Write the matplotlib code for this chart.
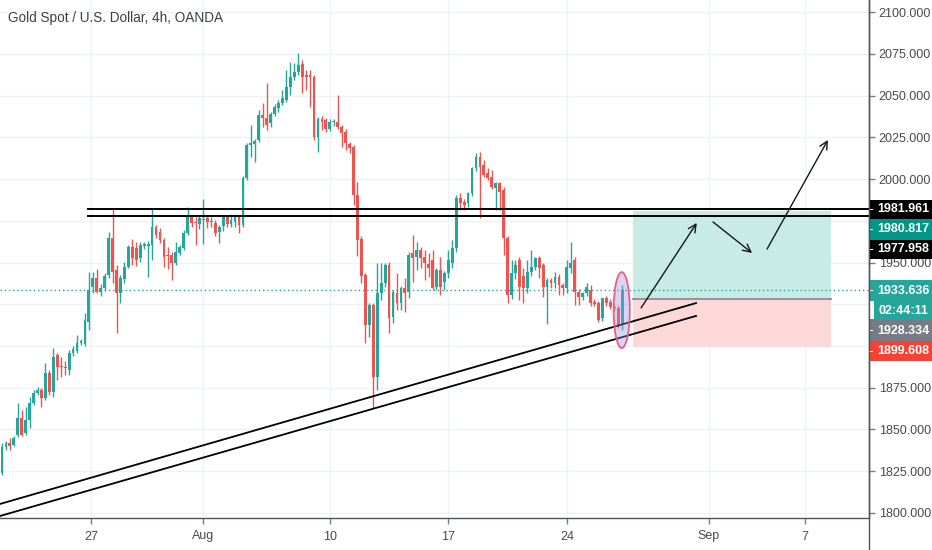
import matplotlib
matplotlib.use("Agg")
import matplotlib.pyplot as plt
from matplotlib.patches import Rectangle, Ellipse
import numpy as np

# 4h candles (bar index = position on the time axis)
opens = [1824.0, 1839.5, 1842.0, 1841.0, 1846.7, 1857.0, 1848.0, 1855.7, 1866.0, 1872.0,
         1873.7, 1868.9, 1883.8, 1872.4, 1894.6, 1888.0, 1887.7, 1885.6, 1895.8, 1897.0,
         1901.5, 1901.2, 1914.4, 1935.3, 1940.7, 1932.3, 1934.7, 1942.5, 1964.7, 1945.5,
         1931.7, 1940.1, 1947.3, 1959.3, 1958.7, 1952.7, 1959.9, 1960.0, 1960.5, 1971.3,
         1968.3, 1963.5, 1954.5, 1954.5, 1949.7, 1955.7, 1958.7, 1967.7, 1977.2, 1974.0,
         1973.0, 1975.4, 1976.6, 1974.5, 1973.7, 1968.3, 1971.9, 1977.2, 1973.0, 1974.5,
         1977.2, 1972.5, 2000.6, 2020.4, 2021.0, 2023.4, 2038.3, 2036.5, 2033.5, 2038.9,
         2042.5, 2045.5, 2047.3, 2055.1, 2061.1, 2064.1, 2068.9, 2062.3, 2062.3, 2061.1,
         2025.1, 2035.9, 2035.3, 2030.0, 2034.1, 2034.1, 2031.1, 2028.1, 2021.0, 2019.2,
         1990.4, 1964.1, 1942.5, 1912.6, 1924.5, 1881.4, 1931.7, 1937.7, 1948.5, 1917.4,
         1931.7, 1925.7, 1934.7, 1932.3, 1955.7, 1953.3, 1957.5, 1953.3, 1949.1, 1951.5,
         1935.3, 1945.5, 1938.3, 1943.7, 1949.7, 1958.7, 1988.6, 1986.2, 1985.6, 1991.6,
         2006.6, 2013.2, 2008.4, 2003.6, 2001.2, 1994.6, 1997.6, 1993.4, 1964.7, 1930.5,
         1943.7, 1951.5, 1942.0, 1934.7, 1944.3, 1947.3, 1952.7, 1948.5, 1935.3, 1939.5,
         1937.7, 1941.3, 1936.5, 1934.7, 1946.7, 1951.5, 1932.3, 1929.3, 1931.7, 1933.5,
         1926.3, 1925.7, 1916.8, 1928.7, 1926.3, 1923.4, 1922.8, 1912.6]
highs = [1842.0, 1843.0, 1845.0, 1846.0, 1866.0, 1861.7, 1863.5, 1869.5, 1873.7, 1875.4,
         1874.9, 1889.8, 1885.6, 1898.8, 1895.8, 1893.4, 1891.0, 1897.6, 1900.0, 1906.6,
         1904.0, 1919.8, 1944.3, 1944.3, 1946.1, 1937.0, 1943.7, 1968.3, 1982.6, 1948.5,
         1942.5, 1950.3, 1960.5, 1964.1, 1962.3, 1962.3, 1962.0, 1963.0, 1982.6, 1972.5,
         1970.7, 1964.7, 1959.0, 1956.3, 1962.3, 1960.5, 1969.5, 1983.2, 1978.4, 1977.0,
         1978.0, 1988.0, 1977.8, 1977.0, 1975.4, 1972.5, 1978.5, 1978.5, 1979.0, 1979.0,
         1978.5, 2001.8, 2021.6, 2032.3, 2024.0, 2041.3, 2045.5, 2057.5, 2040.1, 2044.9,
         2047.3, 2053.3, 2065.3, 2070.1, 2069.5, 2075.4, 2071.3, 2065.3, 2065.3, 2062.3,
         2037.1, 2038.0, 2036.5, 2036.0, 2036.0, 2050.3, 2032.3, 2030.0, 2022.2, 2020.4,
         1998.2, 1965.9, 1943.7, 1926.0, 1925.7, 1949.7, 1949.7, 1949.7, 1950.3, 1933.5,
         1943.7, 1936.0, 1940.7, 1956.3, 1966.5, 1962.3, 1959.3, 1957.5, 1955.7, 1957.5,
         1946.7, 1953.3, 1945.0, 1957.5, 1963.5, 1990.4, 1991.6, 1988.0, 1992.0, 2007.0,
         2015.6, 2016.2, 2011.4, 2006.6, 2005.4, 1998.2, 1998.2, 1995.0, 1966.0, 1951.5,
         1951.5, 1953.0, 1947.0, 1951.5, 1957.5, 1953.0, 1954.0, 1950.0, 1941.0, 1941.0,
         1944.3, 1943.0, 1938.0, 1951.5, 1962.3, 1953.0, 1934.0, 1932.5, 1937.7, 1936.5,
         1928.0, 1927.0, 1929.0, 1930.0, 1928.0, 1925.0, 1924.0, 1936.5]
lows = [1822.8, 1838.0, 1838.0, 1840.0, 1845.5, 1846.0, 1846.7, 1851.0, 1864.7, 1870.7,
        1863.5, 1867.7, 1870.7, 1869.5, 1879.6, 1881.4, 1882.6, 1882.6, 1894.0, 1895.8,
        1900.5, 1900.0, 1909.6, 1931.7, 1931.7, 1930.0, 1933.0, 1940.7, 1938.0, 1907.8,
        1925.7, 1937.7, 1946.7, 1948.5, 1947.9, 1950.3, 1958.0, 1941.3, 1951.5, 1964.7,
        1961.7, 1947.3, 1946.0, 1939.5, 1948.5, 1954.5, 1957.5, 1966.5, 1971.3, 1960.5,
        1970.0, 1961.1, 1970.5, 1971.0, 1965.9, 1961.7, 1969.0, 1971.0, 1971.0, 1971.3,
        1967.7, 1971.3, 1999.4, 2013.2, 2010.0, 2022.2, 2031.1, 2029.2, 2031.1, 2037.7,
        2040.1, 2044.3, 2046.1, 2050.3, 2059.3, 2062.3, 2051.5, 2053.3, 2043.1, 2023.4,
        2016.2, 2029.2, 2028.1, 2028.7, 2032.0, 2029.8, 2019.2, 2017.4, 2015.6, 1984.4,
        1953.9, 1937.7, 1901.8, 1905.4, 1862.9, 1873.7, 1927.5, 1935.3, 1907.8, 1913.8,
        1921.6, 1921.6, 1920.4, 1929.0, 1938.3, 1945.5, 1946.7, 1939.5, 1941.3, 1933.5,
        1933.5, 1930.5, 1933.5, 1941.0, 1947.0, 1956.0, 1981.4, 1981.4, 1983.5, 1990.0,
        2005.0, 1976.6, 2001.0, 1999.4, 1994.0, 1981.4, 1981.4, 1954.5, 1925.7, 1928.0,
        1940.0, 1927.5, 1925.7, 1932.0, 1942.0, 1945.5, 1940.7, 1929.3, 1913.2, 1934.7,
        1935.0, 1930.5, 1930.5, 1932.0, 1944.0, 1924.5, 1924.5, 1927.5, 1930.0, 1924.0,
        1924.0, 1914.4, 1915.0, 1924.0, 1922.0, 1921.0, 1911.0, 1909.6]
closes = [1839.5, 1842.0, 1840.0, 1845.0, 1857.0, 1846.7, 1855.7, 1866.0, 1872.0, 1873.7,
          1868.9, 1883.8, 1872.4, 1893.4, 1887.4, 1887.4, 1886.8, 1895.8, 1898.2, 1901.8,
          1903.0, 1915.6, 1933.5, 1940.7, 1932.3, 1935.0, 1941.9, 1964.7, 1944.3, 1931.7,
          1940.7, 1947.3, 1959.3, 1952.7, 1951.5, 1960.5, 1961.1, 1961.0, 1971.3, 1966.5,
          1963.5, 1953.3, 1954.0, 1949.7, 1956.3, 1959.3, 1967.7, 1977.2, 1973.7, 1973.5,
          1976.6, 1976.2, 1974.3, 1974.0, 1967.7, 1971.3, 1977.2, 1973.0, 1975.4, 1977.2,
          1972.5, 2000.6, 2020.4, 2021.6, 2023.0, 2038.3, 2036.5, 2032.3, 2038.9, 2043.1,
          2045.5, 2048.5, 2055.1, 2061.1, 2064.1, 2068.3, 2061.1, 2061.1, 2061.0, 2025.1,
          2035.9, 2034.1, 2030.0, 2034.1, 2034.8, 2031.1, 2027.5, 2021.6, 2018.6, 1990.4,
          1963.5, 1941.9, 1912.6, 1924.5, 1881.4, 1931.7, 1937.7, 1948.5, 1916.8, 1932.3,
          1925.7, 1934.7, 1931.7, 1954.5, 1952.7, 1957.5, 1952.7, 1949.7, 1946.7, 1934.7,
          1945.5, 1935.3, 1943.7, 1951.5, 1958.7, 1988.6, 1985.6, 1984.4, 1991.6, 2006.6,
          2013.2, 2007.2, 2002.4, 2000.6, 1995.2, 1997.6, 1992.2, 1964.7, 1930.5, 1943.7,
          1948.5, 1935.3, 1934.7, 1944.3, 1947.3, 1952.7, 1946.7, 1935.3, 1939.5, 1937.7,
          1941.3, 1936.5, 1934.7, 1947.3, 1949.7, 1932.3, 1929.3, 1931.7, 1935.3, 1925.7,
          1925.1, 1915.6, 1928.7, 1925.7, 1923.4, 1922.8, 1912.6, 1933.636]

date_ticks = [22.5, 51, 83, 113, 143, 179, 203.3]
date_labels = ["27", "Aug", "10", "17", "24", "Sep", "7"]
price_ticks = list(range(1800, 2101, 25))
hidden_prices = [1975, 1925, 1900]  # covered by the price tags in the original

# drawings on the chart
resistance = [1981.961, 1977.958]
resistance_start = 21.8
support_x = [-0.5, 175.7]
support_upper = [1805.4, 1925.7]
support_lower = [1798.2, 1918.0]
last_price = 1933.636
entry, target, stop = 1928.334, 1980.817, 1899.608
position_x = [159.7, 209.9]
arrows = [((161.8, 1922.8), (175.9, 1973.7)),
          ((180.0, 1974.3), (189.9, 1955.7)),
          ((193.7, 1958.1), (209.1, 2023.4))]

# price tags on the right scale: text, background, y position (px from top)
tag_text = ["1981.961", "1980.817", "1977.958", "1933.636", "02:44:11", "1928.334", "1899.608"]
tag_color = ["#000000", "#009688", "#000000", "#26a69a", "#26a69a", "#787b86", "#f44336"]
tag_top = [200, 219, 240, 280, 301, 320, 341]
tag_bottom = [219, 240, 259, 301, 320, 341, 361]

UP, DOWN = "#26a69a", "#ef5350"
FONT = ["Liberation Sans", "DejaVu Sans"]
W, H = 932, 550
RIGHT, BOTTOM = 869, 518

fig = plt.figure(figsize=(W / 100, H / 100), dpi=100)
ax = fig.add_axes([0, (H - BOTTOM) / H, RIGHT / W, BOTTOM / H])
ax.set_xlim(-0.5, 219.5)
ax.set_ylim(1797.0, 2107.2)

for s in ["top", "left"]:
    ax.spines[s].set_visible(False)
for s in ["right", "bottom"]:
    ax.spines[s].set_color("#50535e")
    ax.spines[s].set_linewidth(1)

ax.set_yticks(price_ticks)
ax.set_yticklabels(["" if p in hidden_prices else f"{p:.3f}" for p in price_ticks])
ax.yaxis.tick_right()
ax.set_xticks(date_ticks)
ax.set_xticklabels(date_labels)
ax.tick_params(axis="both", colors="#787b86", labelcolor="#4a4a4a", length=4, width=1,
               labelsize=9, pad=3)
ax.tick_params(axis="x", pad=5)
for lab in ax.get_yticklabels() + ax.get_xticklabels():
    lab.set_family(FONT)
ax.grid(True, color="#eef1f6", lw=1)
ax.set_axisbelow(True)

# candles
x = np.arange(len(opens))
o, h, l, c = map(np.array, (opens, highs, lows, closes))
cols = np.where(c >= o, UP, DOWN)
ax.vlines(x, l, h, colors=cols, lw=1, zorder=3)
body_lo = np.minimum(o, c)
body_h = np.maximum(np.abs(c - o), 0.7)
ax.bar(x, body_h, bottom=body_lo, width=0.7, color=cols, lw=0, zorder=3)

# last price line
ax.axhline(last_price, color=UP, lw=1, ls=(0, (1, 2)), zorder=2)

# long position tool
ax.add_patch(Rectangle((position_x[0], entry), position_x[1] - position_x[0], target - entry,
                       facecolor="#c9ebe6", edgecolor="none", zorder=1.5))
ax.add_patch(Rectangle((position_x[0], stop), position_x[1] - position_x[0], entry - stop,
                       facecolor="#fcd9d8", edgecolor="none", zorder=1.5))
ax.plot(position_x, [entry, entry], color="#9598a1", lw=1.5, zorder=2)

# resistance + trend lines
for r in resistance:
    ax.plot([resistance_start, 219.5], [r, r], color="black", lw=1.4, zorder=4)
ax.plot(support_x, support_upper, color="black", lw=1.3, zorder=4)
ax.plot(support_x, support_lower, color="black", lw=1.3, zorder=4)

# highlighted last candle
ax.add_patch(Ellipse((156.9, 1921.5), 4.1, 45.5, facecolor=(0.62, 0.55, 0.87, 0.38),
                     edgecolor="#e8627e", lw=1.3, zorder=5))

for (x0, y0), (x1, y1) in arrows:
    ax.annotate("", xy=(x1, y1), xytext=(x0, y0),
                arrowprops=dict(arrowstyle="->", color="#131722", lw=1, mutation_scale=14,
                                shrinkA=0, shrinkB=0), zorder=6)

# title
fig.text(8 / W, 1 - 18 / H, "Gold Spot / U.S. Dollar, 4h, OANDA", ha="left", va="center",
         fontsize=9.8, color="#3c3f47", family=FONT)

# price tags
for txt, col, t, b in zip(tag_text, tag_color, tag_top, tag_bottom):
    fig.patches.append(Rectangle((RIGHT / W, 1 - b / H), (W - RIGHT) / W, (b - t) / H,
                                 transform=fig.transFigure, facecolor=col, edgecolor="none",
                                 zorder=10))
    fig.text((RIGHT + 34) / W, 1 - (t + b) / 2 / H, txt, ha="center", va="center",
             fontsize=9, color="white", fontweight="bold", zorder=11, family=FONT)
    fig.patches.append(Rectangle((RIGHT / W, 1 - ((t + b) / 2 + 0.5) / H), 4 / W, 1 / H,
                                 transform=fig.transFigure, facecolor="white",
                                 edgecolor="none", zorder=11))
# small white notch next to the countdown
fig.patches.append(Rectangle((RIGHT / W, 1 - 319 / H), 5 / W, 18 / H, transform=fig.transFigure,
                             facecolor="white", edgecolor="none", zorder=11))
fig.add_artist(plt.Line2D([RIGHT / W, RIGHT / W], [0, 1], color="#50535e", lw=1, zorder=12))

fig.savefig("out.png", dpi=100)
